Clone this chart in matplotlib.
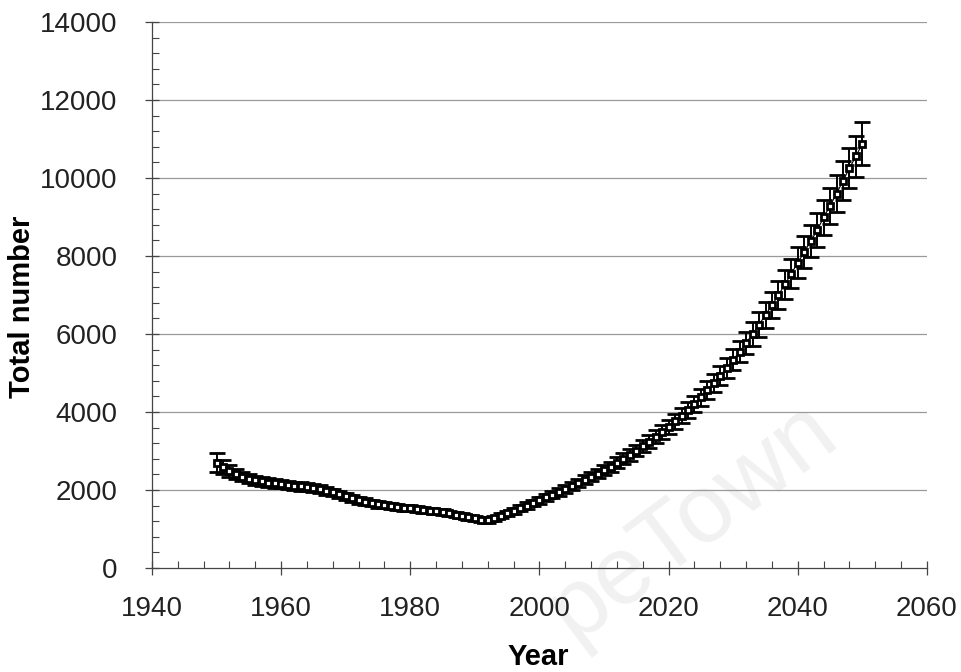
import matplotlib
matplotlib.use("Agg")
import matplotlib.pyplot as plt
from matplotlib.ticker import MultipleLocator

years = list(range(1950, 2051))

totals = [
    2700, 2580, 2480, 2400, 2340, 2290, 2250, 2220, 2190, 2170,   # 1950-1959
    2150, 2130, 2110, 2090, 2070, 2050, 2020, 1980, 1940, 1890,   # 1960-1969
    1840, 1790, 1740, 1700, 1660, 1630, 1610, 1590, 1570, 1550,   # 1970-1979
    1530, 1510, 1490, 1470, 1450, 1430, 1400, 1370, 1340, 1300,   # 1980-1989
    1270, 1240, 1220, 1280, 1340, 1400, 1460, 1530, 1600, 1670,   # 1990-1999
    1740, 1810, 1880, 1950, 2020, 2100, 2180, 2260, 2340, 2420,   # 2000-2009
    2510, 2600, 2700, 2800, 2900, 3010, 3120, 3240, 3360, 3490,   # 2010-2019
    3620, 3760, 3900, 4050, 4210, 4380, 4560, 4740, 4930, 5130,   # 2020-2029
    5340, 5550, 5770, 6000, 6240, 6490, 6740, 7000, 7270, 7550,   # 2030-2039
    7830, 8100, 8380, 8660, 8990, 9290, 9600, 9930, 10250, 10560, # 2040-2049
    10880,                                                        # 2050
]

errors = [
    250, 180, 150, 130, 120, 115, 112, 110, 110, 108,
    107, 106, 105, 104, 103, 102, 101, 99, 97, 94,
    92, 89, 87, 85, 83, 81, 80, 79, 78, 77,
    76, 75, 74, 73, 72, 71, 70, 68, 67, 65,
    63, 62, 61, 64, 67, 70, 73, 76, 80, 83,
    87, 90, 94, 97, 101, 105, 109, 113, 117, 121,
    125, 130, 135, 140, 145, 150, 156, 162, 168, 174,
    181, 188, 195, 202, 210, 219, 228, 237, 246, 256,
    267, 277, 288, 300, 312, 324, 337, 350, 363, 377,
    391, 405, 419, 433, 449, 464, 480, 496, 512, 528,
    544,
]

x_ticks = [1940, 1960, 1980, 2000, 2020, 2040, 2060]
y_ticks = [0, 2000, 4000, 6000, 8000, 10000, 12000, 14000]

plt.rcParams["font.family"] = ["Liberation Sans", "DejaVu Sans"]

fig = plt.figure(figsize=(9.62, 6.72), dpi=100)
ax = fig.add_axes([0.158, 0.1548, 0.8056, 0.8125])
ax.set_zorder(1)
ax.set_facecolor("none")

# faint background stamp, kept behind the axes
fig.text(0.72, 0.225, "peTown", fontsize=70, color="#f1f1f1", rotation=37,
         ha="center", va="center", zorder=-5)

for yv in y_ticks[1:]:
    ax.axhline(yv, color="#9a9a9a", lw=0.9, zorder=1)

ax.errorbar(years, totals, yerr=errors, fmt="-s", color="black", lw=0.8,
            ms=5, mfc="white", mec="black", mew=2.0,
            ecolor="black", elinewidth=1.4, capsize=6, capthick=1.8, zorder=3)

ax.set_xlim(1940, 2060)
ax.set_ylim(0, 14000)
ax.set_xticks(x_ticks)
ax.set_yticks(y_ticks)
ax.xaxis.set_minor_locator(MultipleLocator(4))
ax.yaxis.set_minor_locator(MultipleLocator(400))

for side in ("top", "right"):
    ax.spines[side].set_visible(False)
for side in ("left", "bottom"):
    ax.spines[side].set_color("#444444")
    ax.spines[side].set_linewidth(0.9)

ax.tick_params(axis="both", which="major", direction="inout", length=10,
               width=0.9, color="#444444", labelsize=20, labelcolor="#222222")
ax.tick_params(axis="both", which="minor", direction="in", length=5,
               width=0.8, color="#444444")
ax.tick_params(axis="x", which="major", pad=15)
ax.tick_params(axis="y", which="major", pad=20)

ax.set_xlabel("Year", fontsize=21, fontweight="bold")
ax.set_ylabel("Total number", fontsize=21, fontweight="bold")
ax.xaxis.set_label_coords(0.499, -0.138)
ax.yaxis.set_label_coords(-0.168, 0.478)
ax.yaxis.label.set_va("center")

fig.savefig("out.png", dpi=100)
